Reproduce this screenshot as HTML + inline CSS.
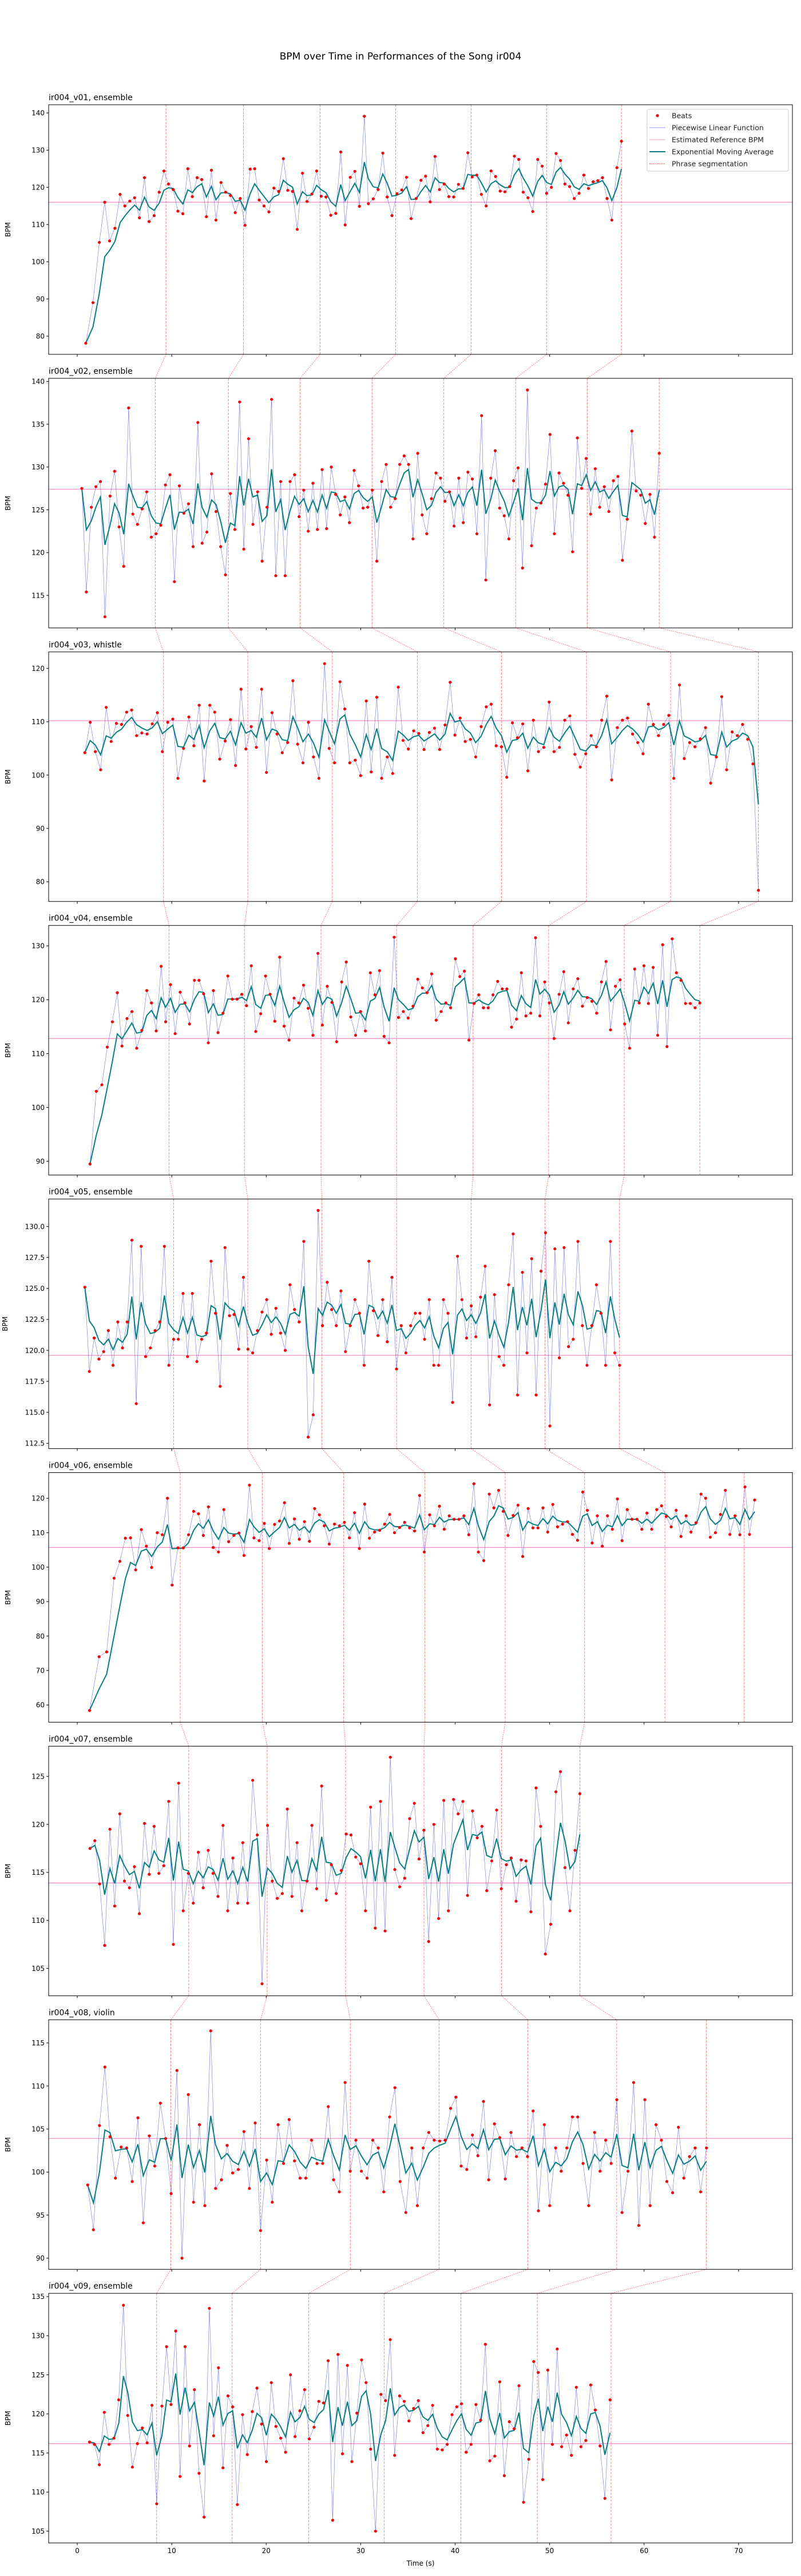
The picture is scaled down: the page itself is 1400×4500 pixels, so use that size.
<!DOCTYPE html>
<html><head><meta charset="utf-8"><title>BPM over Time ir004</title>
<style>
html,body{margin:0;padding:0;background:#fff;}
svg{display:block;font-family:"DejaVu Sans","Liberation Sans",sans-serif;}
</style></head>
<body>
<svg id="fig" xmlns="http://www.w3.org/2000/svg" width="1400" height="4500" viewBox="0 0 1400 4500">
<rect x="0" y="0" width="1400" height="4500" fill="#fff"/>
<text x="700" y="104" text-anchor="middle" font-size="17" fill="#000">BPM over Time in Performances of the Song ir004</text>
<g id="panels"></g>
</svg>
<script>
const panelTitles = ["ir004_v01, ensemble","ir004_v02, ensemble","ir004_v03, whistle","ir004_v04, ensemble","ir004_v05, ensemble","ir004_v06, ensemble","ir004_v07, ensemble","ir004_v08, violin","ir004_v09, ensemble"];
const beats1 = [78.1,89,105.2,116,105.6,109,118.1,115,116.3,117.2,111.8,122.6,110.8,112.4,118.7,124.4,120.9,119.4,113.6,112.9,125,117.5,122.6,122.1,112.1,124.6,111.2,121.3,118.7,117.8,113.2,117.0,109.8,124.9,125,116.6,115,113.4,119.8,118.9,127.7,119.2,118.9,108.7,123.8,116.2,118.2,124.4,117.6,117.4,112.5,113,129.5,109.9,122.7,124.3,114.9,139.1,115.6,116.9,119.4,129.2,117.4,112.4,118.3,119.3,122.7,111.6,117,121.9,123,116.1,128.3,119.4,120.9,117.5,117.4,120.8,119.7,129.3,122.8,123.3,118.1,115,124.4,122.9,119,118.8,120.2,128.4,127.5,118.7,117.2,113.5,127.5,125.7,118.4,120,129.1,127.2,120.9,120.2,117,118.4,123.3,119.7,121.5,121.8,122.6,117,111.2,125.3,132.4];
const beats2 = [127.5,115.4,125.3,127.7,128.3,112.5,126.6,129.5,123,118.4,136.9,124.5,123.3,125.1,127.1,121.8,122.2,123.2,127.9,129.1,116.6,127.8,124.6,125.7,120.7,135.2,121.1,122.4,129.2,124.8,120.7,117.4,126.9,122.7,137.6,120.4,133.3,123.3,127.1,119,125.3,137.9,117.3,128.3,117.3,128.3,129.1,124.2,127.3,122.5,128.1,122.7,129.7,122.8,130,126.8,124.4,126.5,123.5,129.6,127.8,125.2,125.3,127.3,119,128.3,130.3,125.3,126.3,130.3,131.3,130.3,121.6,131.6,124.4,122.2,126.3,129.3,128.7,126,127.1,123.1,128.7,123.5,129.4,128.6,122.2,136,116.8,128.7,131.9,125.2,124.3,121.6,128.4,129.9,118.2,139,120.8,125.2,125.8,128,133.8,122.2,129.3,128.1,126.7,120.1,133.4,127.5,131,124.5,129.8,125.3,127.7,124.8,128.4,128.9,119.1,123.9,134.2,127.2,126.7,123.4,126.8,121.8,131.6];
const beats3 = [104.2,109.9,104.4,101,112.7,106.3,109.7,109.5,111.8,112.2,107.4,107.9,107.7,109.6,111.7,104.4,109.9,110.5,99.4,105,110.9,105.5,113.1,98.9,113.1,111.8,103,106.4,110.4,101.8,116.1,104.9,109.1,105.2,116.1,100.5,111.7,107.7,104.2,106.1,117.7,105.8,102.3,109.9,103.4,99.4,120.9,105,102.3,117.5,112.4,102.3,102.8,99.9,113.9,100.6,114.6,99.4,103.4,100.3,116.5,106.5,104.9,108.3,107.8,104.8,108,108.8,104.8,109.4,117.4,107.5,110.7,106.3,106.7,103.4,109.1,112.8,113.3,105.5,105.3,99.6,109.8,107,109.6,100.8,110.3,104.4,105.2,113.7,104.4,105.2,110.3,111.1,103.9,101.5,104,107.4,105.3,110.3,114.8,99.1,108.9,110.3,110.7,107.7,106.1,104,113.3,109.5,107.4,109.5,111.2,99.4,116.9,103.1,106.1,105.3,106.8,108.9,98.5,103.4,114.7,101,108.1,107.4,109.5,106.7,102.1,78.4];
const beats4 = [89.5,103,104.2,111.2,115.9,121.3,111.4,116.5,117.8,111,114.3,121.7,119.4,114.2,126.2,115.9,122.8,113.7,121.4,119.4,115.5,123.6,123.6,121.1,112,121.7,113.9,117.5,124.4,120.1,120.1,121,118.9,126.3,114.1,117.4,124.4,121,116,127.9,115.1,112.5,120.3,119.4,122.7,118.4,113.4,128.6,115.3,122.5,119.5,112.2,123.3,127,116.8,113.4,117.8,114.2,125,120.9,125.4,113.2,112,131.6,116.7,117.8,116.6,118.8,123.8,122.2,121.3,124.8,116.2,117.8,119.4,118.5,127.6,124.3,125.3,112.5,119.3,120.9,118.5,118.5,120.9,123.4,122,122,114.9,116.4,125,117,117.5,131.5,117,123.3,119.4,112.8,121,125.2,115.7,122,123.9,118.8,120.4,119.7,117.5,123.3,127.1,114.4,122.5,123.7,115.5,111,125.7,119.4,126.3,119.3,126,113.4,130.2,111.3,131.3,125,123.6,119.3,119.3,118.5,119.4];
const beats5 = [125.1,118.3,121.0,119.3,119.9,121.6,118.8,122.3,120.2,122.3,128.9,115.7,128.4,119.5,120.2,121.6,122.3,128.4,118.8,120.9,120.9,124.6,119.5,124.6,119.1,120.9,121.4,127.2,123,117.1,128.3,122.8,122.9,120.1,125.9,120.1,119.8,121.6,123.1,124.1,121.3,123.4,121.4,120.0,125.3,123.3,122.3,128.8,113,114.8,131.3,122,125.5,123.3,122,124.8,119.9,122,124.1,123,118.8,127.2,123.2,121.2,124.1,120.7,125.9,118.5,122,119.8,122,123,123,120.9,124.1,118.8,118.8,124.1,123,115.8,127.6,124.1,121,123.6,121.1,124.3,126.8,115.6,124.5,119.5,118.8,125.3,129.4,116.4,126.3,119.8,127.4,116.4,126.4,129.5,113.9,128.2,119.4,128.3,120.3,120.9,128.8,122,118.8,122,125.3,123,118.8,128.8,119.8,118.8];
const beats6 = [58.4,74,75.4,96.8,101.7,108.4,108.5,99.2,110.9,106.1,99.9,110,109.4,120,94.8,105.6,105.6,109.4,116.2,115.5,109.2,117.5,105.7,104.4,116.7,107.4,109.2,109.9,103.4,123.8,108.5,107.7,112.7,105.4,112.4,113.4,118.7,106.9,114,108.1,113.2,107.5,117,115.2,112,106.7,112.5,112,113,108.5,115.8,105.4,118.3,108.4,110.2,110.7,112.5,115.3,110,111.5,113,111.4,110.5,120.8,104.4,115.2,112,117.7,111,114.9,113.9,113.9,114.9,109.4,124.2,104.4,101.9,121.2,117.2,122.3,116.2,109.2,115,118,103.1,117,111.4,111.4,117.2,110.2,118.2,111.7,112.5,113.2,109.5,107.8,121.8,116.5,107,114.9,106.1,114.9,111,119.8,107.7,116.7,113.9,113.9,111,115.7,111,116.7,117.8,114.7,111.7,116.5,108.9,114.9,110.2,112.9,121.2,120,108.7,110,115.3,122.3,109.5,114.9,109.4,123.3,109.5,119.5];
const beats7 = [117.5,118.3,113.8,107.4,119.5,111.5,121.1,114.1,113.4,115.6,110.7,120.1,114.8,119.8,114.9,115.7,122.4,107.5,124.3,111,114.9,111.8,117.1,113.4,117.3,114.9,112.5,119.9,111,116.5,111.8,118.1,111.8,124.6,118.9,103.4,119.9,114.1,112.3,112.8,121.6,112.5,118.1,111,114.1,119.9,113.3,124,112.1,115.8,112.8,115.2,119,118.9,116.6,115.9,111,121.8,109.2,122.4,108.9,127,115.3,113.5,114.4,120.6,122.2,116.4,119.4,107.8,120,110.2,122.5,111,122.6,121.1,122.4,112.6,121.4,118.6,119.8,113.1,116.2,121.5,113.3,115.8,116.5,112,116.3,116.2,110.9,123.8,119.8,106.5,109.6,123.4,125.5,115.5,111,117.3,123.2];
const beats8 = [98.5,93.3,105.4,112.2,104.1,99.3,102.9,102.8,98.9,106.3,94.1,104.2,100.7,108,103.9,97.5,111.8,90,109,96.5,105.5,96.1,116.4,98.1,99.1,103.1,99.9,100.3,104.7,98.1,105.7,93.2,101.4,96.5,105.5,101,106.1,101.3,99.3,99.3,103.7,101,101,107.6,99.1,97.7,110.4,100.1,103.7,100.1,99.3,103.7,102.8,97.7,106.4,109.8,98.9,95.3,102.8,96.1,102.8,104.6,103.7,103.6,103.7,107.4,108.7,100.7,100.3,104.3,101.9,108.2,99.1,105.6,104,99.2,104.6,101.8,102.8,101.8,107.1,95.5,105.5,96.1,102.8,100.1,102.8,106.4,106.4,101,96.1,104.6,100.1,103.7,101,108.4,95.3,100.1,110.4,93.8,108.4,96.1,105.5,103.7,98.9,97.6,105.2,99.3,101.8,102.8,97.7,102.8];
const beats9 = [116.4,116.1,113.5,120.2,116.1,116.9,121.8,133.9,119.8,113.2,116.2,118.2,116.3,121.1,108.5,121,128.6,121.2,130.6,112,128.6,115.9,123.1,112.4,106.8,133.5,117.2,125.9,113.1,122.3,120.9,108.4,119.9,114.8,120.3,123.3,118.7,113.9,124,118.4,116.9,115.1,125,117.1,120.4,123.1,116.8,118.3,121.6,121.4,126.8,106.4,127.6,114.9,126.2,113.9,120.1,126.9,124,115.5,105,122.5,121.7,129.5,114.7,122.3,121.6,119.1,120.7,121.7,117.6,118.5,121.1,115.5,115.4,116.1,119.9,120.9,121.3,115.1,116.1,121.2,119.2,128.9,114,114.6,124.1,112.1,119,118.1,123.6,108.7,114.2,126.7,125.3,111.6,125.6,116.1,128.3,115.8,117.3,114.7,123.4,115.8,116.6,123.7,120.5,115.9,109.2,121.8];
const beatSeries = [beats1,beats2,beats3,beats4,beats5,beats6,beats7,beats8,beats9];
const firstBeatTime = [0.9,0.48,0.8,1.35,0.8,1.3,1.35,1.1,1.3];
const lastBeatTime = [57.6,61.6,72.1,65.9,57.4,71.7,53.2,66.6,56.4];
const referenceBpm = [116.0,127.4,110.2,112.8,119.6,105.7,113.9,103.9,116.2];
const phrases1 = [9.39,17.6,25.7,33.7,41.7,49.7,57.6];
const phrases2 = [8.26,16.0,23.6,31.2,38.8,46.4,54.0,61.6];
const phrases3 = [9.13,18.05,27.0,36.0,44.9,53.9,62.8,72.1];
const phrases4 = [9.72,17.7,25.8,33.8,41.9,49.9,57.9,65.9];
const phrases5 = [10.2,18.05,25.9,33.8,41.7,49.5,57.4];
const phrases6 = [10.9,19.6,28.2,36.8,45.3,53.7,62.2,70.6];
const phrases7 = [11.8,20.1,28.4,36.7,44.9,53.2];
const phrases8 = [9.9,19.4,28.9,38.3,47.7,57.1,66.6];
const phrases9 = [8.4,16.4,24.5,32.5,40.6,48.7,56.5];
const phraseSeries = [phrases1,phrases2,phrases3,phrases4,phrases5,phrases6,phrases7,phrases8,phrases9];
const yMinLimits = [75.1,111.2,76.3,87.45,112.07,55.0,102.15,88.7,103.5];
const yMaxLimits = [142.2,140.36,123.1,133.78,132.22,127.44,128.15,117.69,135.42];
const yTicks1 = [80,90,100,110,120,130,140];
const yTicks2 = [115,120,125,130,135,140];
const yTicks3 = [80,90,100,110,120];
const yTicks4 = [90,100,110,120,130];
const yTicks5 = [112.5,115,117.5,120,122.5,125,127.5,130];
const yTicks6 = [60,70,80,90,100,110,120];
const yTicks7 = [105,110,115,120,125];
const yTicks8 = [90,95,100,105,110,115];
const yTicks9 = [105,110,115,120,125,130,135];
const yTickSeries = [yTicks1,yTicks2,yTicks3,yTicks4,yTicks5,yTicks6,yTicks7,yTicks8,yTicks9];
const xTicks = [0,10,20,30,40,50,60,70];
const emaAlpha = 0.4;

const NS = "http://www.w3.org/2000/svg";
const AX_L = 85, AX_R = 1385, AX_H = 436, TOP0 = 183, PITCH = 477.9;
const X_MIN = -3.03, X_MAX = 75.7;
function xScale(t){ return AX_L + (t - X_MIN) / (X_MAX - X_MIN) * (AX_R - AX_L); }
function panelTop(i){ return TOP0 + PITCH * i; }
function yScale(i, v){ return panelTop(i) + (yMaxLimits[i] - v) / (yMaxLimits[i] - yMinLimits[i]) * AX_H; }
function mk(tag, attrs, parent){ const e = document.createElementNS(NS, tag); for (const k in attrs) e.setAttribute(k, attrs[k]); parent.appendChild(e); return e; }
function beatTimes(i){
  const v = beatSeries[i]; const cum = [0];
  for (let k = 1; k < v.length; k++) cum.push(cum[k-1] + 60 / v[k-1]);
  const total = cum[cum.length-1];
  return cum.map(c => firstBeatTime[i] + c / total * (lastBeatTime[i] - firstBeatTime[i]));
}
function ema(v){ const out = [v[0]]; for (let k = 1; k < v.length; k++) out.push(emaAlpha * v[k] + (1 - emaAlpha) * out[k-1]); return out; }
function fmtTick(i, v){ return i === 4 ? v.toFixed(1) : String(v); }

const root = document.getElementById('panels');
for (let i = 0; i < 9; i++) {
  const top = panelTop(i), bot = top + AX_H;
  const g = mk('g', {}, root);
  
  
  const clipId = 'clip' + i;
  const cp = mk('clipPath', {id: clipId}, g);
  mk('rect', {x: AX_L, y: top, width: AX_R - AX_L, height: AX_H}, cp);

  const title = mk('text', {x: AX_L, y: top - 8, 'font-size': 14, fill: '#000'}, g);
  title.textContent = panelTitles[i];
  
  

  const plot = mk('g', {'clip-path': 'url(#' + clipId + ')'}, g);
  
  

  // phrase segmentation lines
  phraseSeries[i].forEach(t => {
    const l = mk('line', {x1: xScale(t), x2: xScale(t), y1: top, y2: bot, stroke: '#ff0000', 'stroke-width': 0.8, 'stroke-dasharray': '4,2', opacity: 0.6}, plot);
    
    
  });
  // reference line
  const yr = yScale(i, referenceBpm[i]);
  const ref = mk('line', {x1: AX_L, x2: AX_R, y1: yr, y2: yr, stroke: '#ff69b4', 'stroke-width': 1.2, opacity: 0.8}, plot);
  
  

  const times = beatTimes(i), vals = beatSeries[i];
  const pts = vals.map((v, k) => xScale(times[k]).toFixed(1) + ',' + yScale(i, v).toFixed(1)).join(' ');
  const pl = mk('polyline', {points: pts, fill: 'none', stroke: '#3333ff', 'stroke-width': 0.6, opacity: 0.7}, plot);
  
  

  const e = ema(vals);
  const ept = e.map((v, k) => xScale(times[k]).toFixed(1) + ',' + yScale(i, v).toFixed(1)).join(' ');
  const el = mk('polyline', {points: ept, fill: 'none', stroke: '#008080', 'stroke-width': 2}, plot);
  
  

  vals.forEach((v, k) => {
    const c = mk('circle', {cx: xScale(times[k]), cy: yScale(i, v), r: 2.6, fill: '#ff0000'}, plot);
    
    
  });

  // frame
  const fr = mk('rect', {x: AX_L, y: top, width: AX_R - AX_L, height: AX_H, fill: 'none', stroke: '#000', 'stroke-width': 1}, g);
  
  

  // y ticks
  yTickSeries[i].forEach(v => {
    const y = yScale(i, v);
    mk('line', {x1: AX_L - 4, x2: AX_L, y1: y, y2: y, stroke: '#000', 'stroke-width': 1}, g);
    const tl = mk('text', {x: AX_L - 7, y: y + 4.3, 'text-anchor': 'end', 'font-size': 12, fill: '#000'}, g);
    tl.textContent = fmtTick(i, v);
    
    
  });
  const yl = mk('text', {x: 0, y: 0, 'text-anchor': 'middle', 'font-size': 12, fill: '#000', transform: 'translate(' + (i === 4 ? 13 : 18) + ',' + (top + AX_H/2) + ') rotate(-90)'}, g);
  yl.textContent = 'BPM';
  
  

  // x ticks
  xTicks.forEach(t => {
    const x = xScale(t);
    mk('line', {x1: x, x2: x, y1: bot, y2: bot + 4, stroke: '#000', 'stroke-width': 1}, g);
    if (i === 8) {
      const xl = mk('text', {x: x, y: bot + 18, 'text-anchor': 'middle', 'font-size': 12, fill: '#000'}, g);
      xl.textContent = String(t);
      
      
    }
  });

  // connectors to next panel
  if (i < 8) {
    const a = phraseSeries[i], b = phraseSeries[i+1];
    const n = Math.min(a.length, b.length);
    for (let k = 0; k < n; k++) {
      const cl = mk('line', {x1: xScale(a[k]), y1: bot, x2: xScale(b[k]), y2: panelTop(i+1), stroke: '#ff0000', 'stroke-width': 0.8, 'stroke-dasharray': '2,1.5', opacity: 0.6}, root);
      
      
    }
  }
}
const xt = mk('text', {x: 735, y: 4482, 'text-anchor': 'middle', 'font-size': 12, fill: '#000'}, root);
xt.textContent = 'Time (s)';



// legend
const lg = mk('g', {}, root);


mk('rect', {x: 1131, y: 191, width: 247, height: 108, rx: 3, fill: '#fff', 'fill-opacity': 0.8, stroke: '#ccc', 'stroke-width': 1}, lg);
const legendLabels = ['Beats','Piecewise Linear Function','Estimated Reference BPM','Exponential Moving Average','Phrase segmentation'];
legendLabels.forEach((lab, k) => {
  const y = 202 + k * 21;
  const item = mk('g', {}, lg);
  
  
  if (k === 0) mk('circle', {cx: 1149, cy: y, r: 2.6, fill: '#ff0000'}, item);
  if (k === 1) mk('line', {x1: 1135, x2: 1163, y1: y, y2: y, stroke: '#c8c8ff', 'stroke-width': 2}, item);
  if (k === 2) mk('line', {x1: 1135, x2: 1163, y1: y, y2: y, stroke: '#ff69b4', 'stroke-width': 1, opacity: 0.7}, item);
  if (k === 3) mk('line', {x1: 1135, x2: 1163, y1: y, y2: y, stroke: '#008080', 'stroke-width': 2}, item);
  if (k === 4) mk('line', {x1: 1135, x2: 1163, y1: y, y2: y, stroke: '#ff0000', 'stroke-width': 0.8, 'stroke-dasharray': '2,1.5'}, item);
  const t = mk('text', {x: 1174, y: y + 4.5, 'font-size': 12.5, fill: '#222'}, item);
  t.textContent = lab;
});
</script>
</body></html>
